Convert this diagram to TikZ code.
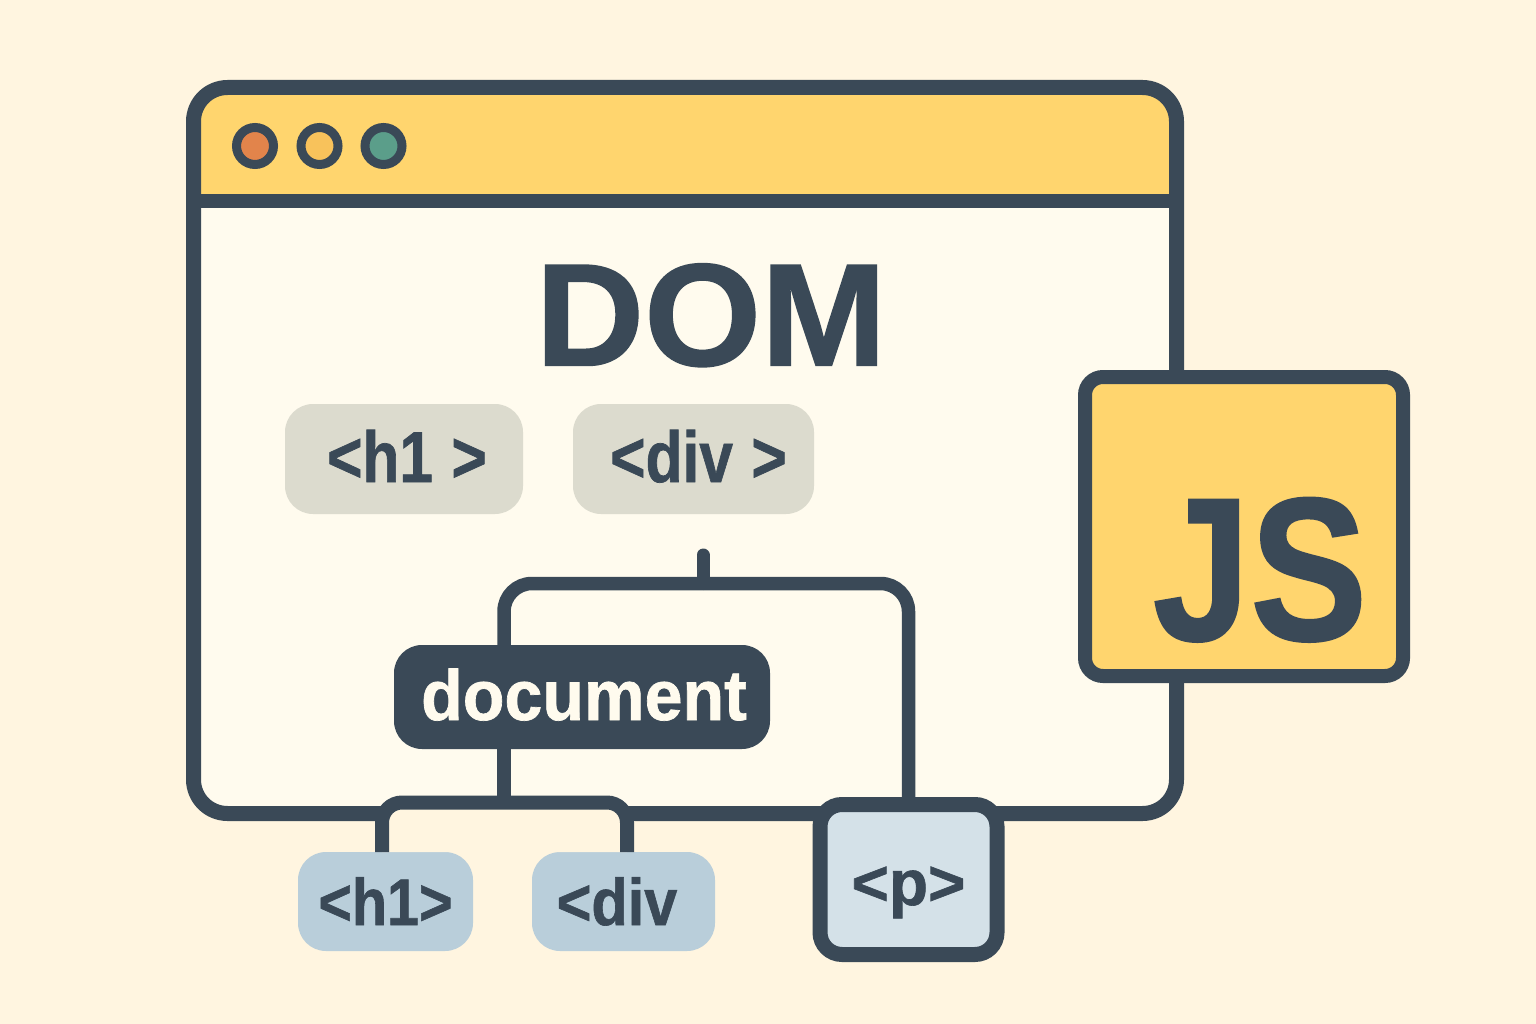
\documentclass[tikz,border=0pt]{standalone}
\usepackage{fontspec}
\setmainfont{Liberation Sans}[BoldFeatures={FakeBold=1}]
\definecolor{ink}{HTML}{3A4957}
\definecolor{paper}{HTML}{FFF5E0}
\definecolor{pagewhite}{HTML}{FFFBEE}
\definecolor{sun}{HTML}{FFD56E}
\definecolor{pilla}{HTML}{DCDBCE}
\definecolor{pillb}{HTML}{B9CEDA}
\definecolor{pillc}{HTML}{D4E1E8}
\definecolor{dotr}{HTML}{E2844B}
\definecolor{doty}{HTML}{F8C25B}
\definecolor{dotg}{HTML}{5B9E8A}
\pgfdeclarelayer{front}
\pgfsetlayers{main,front}
\tikzset{
  x=1pt,y=-1pt,
  box/.style={rectangle,inner sep=0pt,outer sep=0pt,text=ink,font=\bfseries},
  tagbox/.style={box,rounded corners=28pt,minimum height=#1},
  paletext/.style={box,font=\bfseries\fontsize{72}{72}\selectfont,text height=46pt,text depth=0pt,xscale=.84},
  treetext/.style={box,font=\bfseries\fontsize{66}{66}\selectfont,text height=47pt,text depth=0pt},
  dotnode/.style={circle,inner sep=0pt,minimum size=37pt,draw=ink,line width=9pt},
  wire/.style={draw=ink,line width=14pt},
  pbox/.style={box,fill=pillc,draw=ink,line width=15pt,rounded corners=22pt,minimum width=177pt,minimum height=150pt,font=\bfseries\fontsize{64}{64}\selectfont,text height=51pt,text depth=0pt},
}
\begin{document}
\begin{tikzpicture}
\fill[paper] (0,0) rectangle (1536,1024);
\useasboundingbox (0,0) rectangle (1536,1024);
% window
\node[box,fill=pagewhite,rounded corners=34pt,minimum width=983pt,minimum height=726pt] (win) at (685,450.5) {};
\fill[sun] (193.5,201) [rounded corners=34pt] -- (193.5,87.5) -- (1176.5,87.5) [sharp corners] -- (1176.5,201) -- cycle;
\draw[draw=ink,line width=15pt,rounded corners=34pt] (win.south west) rectangle (win.north east);
\coordinate (barl) at (193.5,201);
\coordinate (barr) at (1176.5,201);
\draw[draw=ink,line width=14pt] (barl) -- (barr);
\node[dotnode,fill=dotr] (d1) at (255,146) {};
\node[dotnode,fill=doty] (d2) at (319.5,146) {};
\node[dotnode,fill=dotg] (d3) at (383.5,146) {};
% title
\node[box,font=\bfseries\fontsize{146}{146}\selectfont,text height=104pt,text depth=0pt,xscale=1.03] (dom) at (711,313.5) {DOM};
% pale tags
\node[tagbox=110pt,fill=pilla,minimum width=238pt] (tagh) at (404,459) {};
\node[paletext] (taght) at (407,459) {<h1\hspace{2pt} >};
\node[tagbox=110pt,fill=pilla,minimum width=241pt] (tagd) at (693.5,459) {};
\node[paletext] (tagdt) at (698.5,459) {<div\hspace{2pt} >};
% nodes of the tree
\node[tagbox=99pt,fill=pillb,minimum width=175pt] (h1b) at (385.5,901.5) {};
\node[treetext,xscale=.87] (h1t) at (h1b.center) {<h1>};
\node[tagbox=99pt,fill=pillb,minimum width=183pt] (divb) at (623.5,901.5) {};
\node[treetext,xscale=.9] (divt) at (617,901.5) {<div};
\begin{pgfonlayer}{front}
\node[pbox] (pb) at (908.5,879.5) {<p>};
\end{pgfonlayer}
% connectors
\coordinate (stem) at (703,555);
\coordinate (bend) at (703,583.5);
\coordinate (docup) at (504,650);
\coordinate (docdown) at (504,745);
\coordinate (bus) at (504,802.5);
\draw[wire,line width=13pt,line cap=round] (stem) -- (bend);
\draw[wire,line width=13.5pt,rounded corners=28pt] (docup) |- (bend) -| (pb.north);
\draw[wire] (docdown) -- (bus);
\draw[wire,fill=paper,rounded corners=20pt] ([xshift=-3.5pt]h1b.north) |- (bus) -| ([xshift=3.5pt]divb.north);
% document node
\node[box,fill=ink,rounded corners=28pt,minimum width=376pt,minimum height=104pt] (docn) at (582,697) {};
\node[box,text=pagewhite,font=\bfseries\fontsize{71}{71}\selectfont,text height=46pt,text depth=0pt,xscale=.96] (doct) at (584,697) {document};
% JS tile
\node[box,fill=sun,draw=ink,line width=14pt,rounded corners=18pt,minimum width=318pt,minimum height=299pt] (js) at (1244,526.5) {};
\node[box,font=\bfseries\fontsize{204}{204}\selectfont,text height=144pt,text depth=0pt,xscale=.86] (jst) at (1260,568) {JS};
\end{tikzpicture}
\end{document}
